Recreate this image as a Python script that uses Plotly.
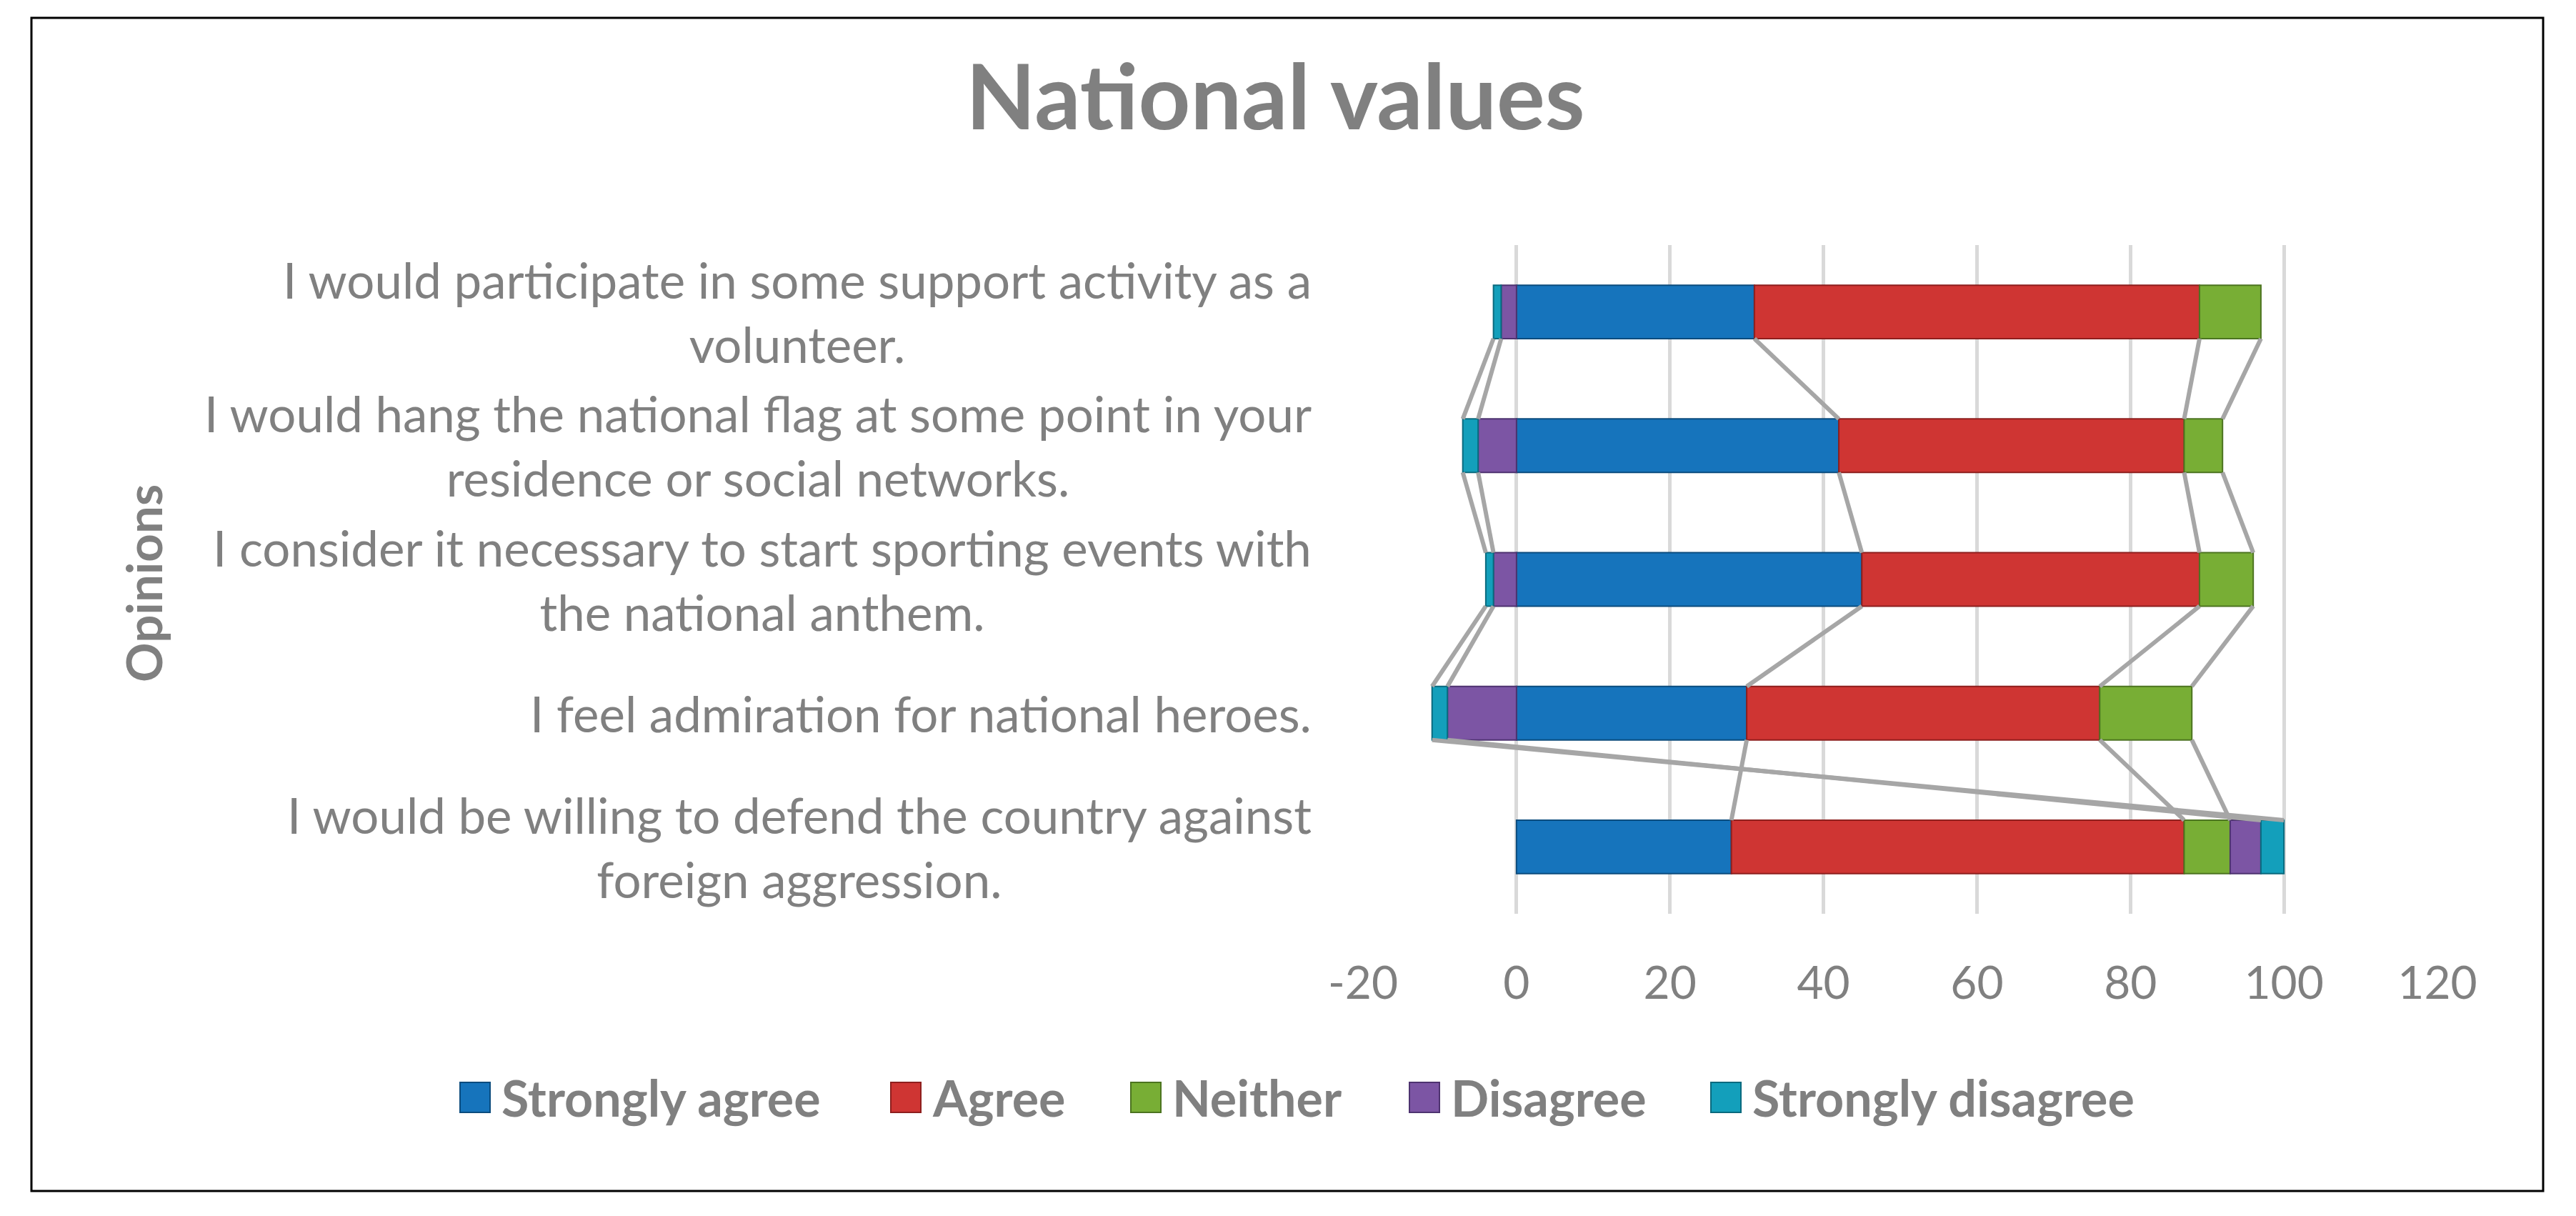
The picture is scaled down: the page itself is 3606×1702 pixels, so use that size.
import plotly.graph_objects as go

W, H = 3606, 1702

# ---------------- data ----------------
categories = [
    "I would be willing to defend the country against<br>foreign aggression.",
    "I feel admiration for national heroes.",
    "I consider it necessary to start sporting events with<br>the national anthem.",
    "I would hang the national flag at some point in your<br>residence or social networks.",
    "I would participate in some support activity as a<br>volunteer.",
]
series_names = ["Strongly agree", "Agree", "Neither", "Disagree", "Strongly disagree"]
strongly_agree = [28, 30, 45, 42, 31]
agree = [59, 46, 44, 45, 58]
neither = [6, 12, 7, 5, 8]
disagree = [4, -9, -3, -5, -2]
strongly_disagree = [3, -2, -1, -2, -1]
x_ticks = [-20, 0, 20, 40, 60, 80, 100, 120]
x_tick_labels = ["-20", "0", "20", "40", "60", "80", "100", "120"]

title_text = "National values"
y_title = "Opinions"

# ---------------- styles ----------------
colors = ["#1674BC", "#CF3533", "#78AE35", "#7C55A4", "#139FBB"]
edge_colors = ["#0B4C7E", "#8E1F1E", "#4C7420", "#4E3370", "#0A6A7E"]
TEXT = "#808080"
FONT = "Lato"

# plot-area pixel box
L, R, T, B = 1900, 3404, 335, 1271


def xp(px):
    return (px - L) / (R - L)


def yp(py):
    return (B - py) / (B - T)


values = [strongly_agree, agree, neither, disagree, strongly_disagree]
ypos = list(range(len(categories)))
BAR_W = 0.4

fig = go.Figure()

for name, vals, c, ec in zip(series_names, values, colors, edge_colors):
    fig.add_trace(go.Bar(
        y=ypos, x=vals, name=name, orientation="h", width=BAR_W,
        marker=dict(color=c, line=dict(color=ec, width=2)),
        showlegend=False,
    ))

# series lines (computed from stacked ends)
pos_cum = [0] * len(categories)
neg_cum = [0] * len(categories)
ends = []
for vals in values:
    e = []
    for i, v in enumerate(vals):
        if v >= 0:
            pos_cum[i] += v
            e.append(pos_cum[i])
        else:
            neg_cum[i] += v
            e.append(neg_cum[i])
    ends.append(e)

lx, ly = [], []
for e in ends:
    for i in range(len(categories) - 1):
        lx += [e[i], e[i + 1], None]
        ly += [ypos[i] + BAR_W / 2, ypos[i + 1] - BAR_W / 2, None]
fig.add_trace(go.Scatter(x=lx, y=ly, mode="lines",
                         line=dict(color="#A6A6A6", width=6),
                         showlegend=False, hoverinfo="skip"))

annotations = []
# title
annotations.append(dict(text="<b>%s</b>" % title_text, xref="paper", yref="paper",
                        x=xp(1777), y=yp(124), xanchor="center", yanchor="middle",
                        showarrow=False, font=dict(family=FONT, size=127, color=TEXT)))
# y-axis title
annotations.append(dict(text="<b>%s</b>" % y_title, xref="paper", yref="paper",
                        x=xp(192), y=yp(809), xanchor="center", yanchor="middle",
                        textangle=-90, showarrow=False,
                        font=dict(family=FONT, size=69, color=TEXT)))
# category labels
for i, cat in enumerate(categories):
    annotations.append(dict(text=cat, xref="paper", yref="y", x=xp(1830), y=ypos[i],
                            xanchor="right", yanchor="middle", align="center",
                            showarrow=False,
                            font=dict(family=FONT, size=69, color=TEXT)))

# legend (manual, large square symbols)
shapes = []
leg_starts = [636, 1239, 1575, 1965, 2387]
SQ = 42
LEG_Y = 1528
for name, c, ec, x0 in zip(series_names, colors, edge_colors, leg_starts):
    shapes.append(dict(type="rect", xref="paper", yref="paper",
                       x0=xp(x0), x1=xp(x0 + SQ), y0=yp(LEG_Y + SQ / 2), y1=yp(LEG_Y - SQ / 2),
                       fillcolor=c, line=dict(color=ec, width=2)))
    annotations.append(dict(text="<b>%s</b>" % name, xref="paper", yref="paper",
                            x=xp(x0 + SQ + 14), y=yp(LEG_Y), xanchor="left", yanchor="middle",
                            showarrow=False, font=dict(family=FONT, size=70, color=TEXT)))

# outer border
shapes.append(dict(type="rect", xref="paper", yref="paper",
                   x0=xp(36), x1=xp(3552), y0=yp(1659), y1=yp(17),
                   line=dict(color="black", width=3), fillcolor="rgba(0,0,0,0)", layer="below"))

fig.update_layout(
    width=W, height=H,
    margin=dict(l=L, r=W - R, t=T, b=H - B, autoexpand=False),
    barmode="relative",
    paper_bgcolor="white", plot_bgcolor="white",
    showlegend=False,
    annotations=annotations, shapes=shapes,
    xaxis=dict(range=[-20, 120], tickvals=x_ticks, ticktext=x_tick_labels,
               showgrid=True, gridcolor="#D9D9D9",
               gridwidth=5, zeroline=False, showline=False, ticks="",
               ticklabelstandoff=54,
               tickfont=dict(family=FONT, size=64, color=TEXT)),
    yaxis=dict(range=[-0.5, 4.5], showticklabels=False, showgrid=False,
               zeroline=False, showline=False, ticks=""),
)

fig.write_html("out.html")
